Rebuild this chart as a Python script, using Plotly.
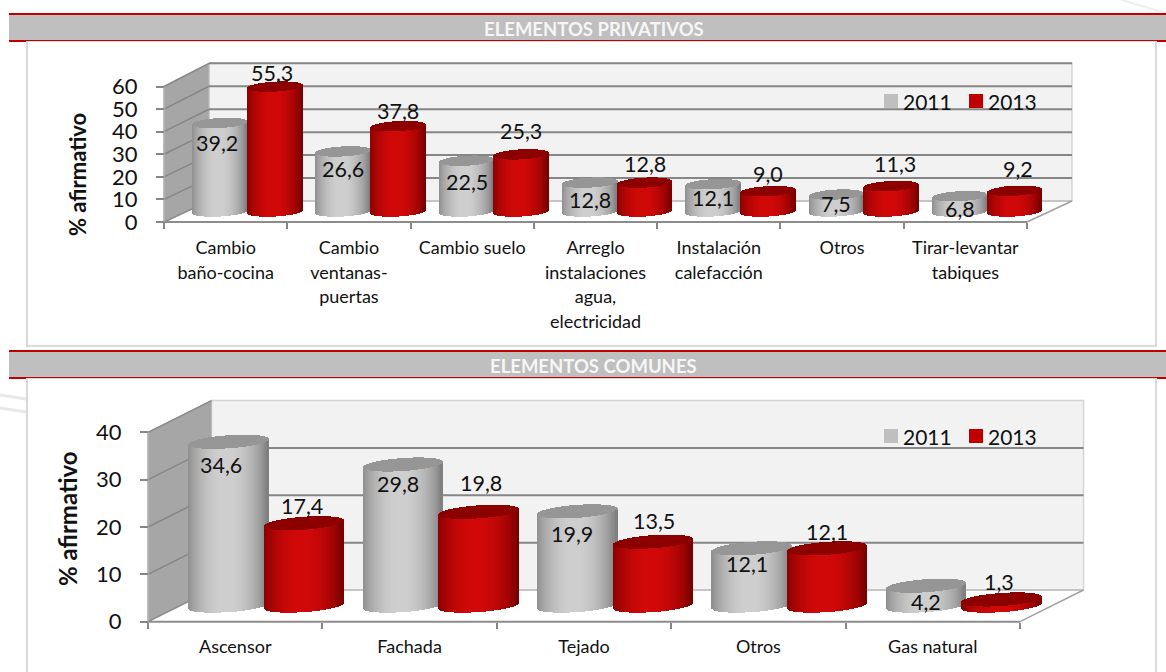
import math
import plotly.graph_objects as go

# ---- data -------------------------------------------------------------
SERIES_NAMES = ["2011", "2013"]
PRIV_CATEGORIES = ["Cambio<br>baño-cocina", "Cambio<br>ventanas-<br>puertas", "Cambio suelo",
                   "Arreglo<br>instalaciones<br>agua,<br>electricidad", "Instalación<br>calefacción",
                   "Otros", "Tirar-levantar<br>tabiques"]
PRIV_2011 = [39.2, 26.6, 22.5, 12.8, 12.1, 7.5, 6.8]
PRIV_2013 = [55.3, 37.8, 25.3, 12.8, 9.0, 11.3, 9.2]
PRIV_TICKS = [0, 10, 20, 30, 40, 50, 60]

COM_CATEGORIES = ["Ascensor", "Fachada", "Tejado", "Otros", "Gas natural"]
COM_2011 = [34.6, 29.8, 19.9, 12.1, 4.2]
COM_2013 = [17.4, 19.8, 13.5, 12.1, 1.3]
COM_TICKS = [0, 10, 20, 30, 40]

Y_TITLE = "% afirmativo"
TITLE_PRIV = "ELEMENTOS PRIVATIVOS"
TITLE_COM = "ELEMENTOS COMUNES"

# ---- page geometry (pixels) -------------------------------------------
W, H = 1166, 672
FONT = "Lato, Carlito, Calibri, sans-serif"
TXT = "#111111"
RED = "#c00000"
GREY = "#bfbfbf"
GRID = "#868686"


def px(x):
    return x / W


def py(y):
    return 1 - y / H


PANELS = [
    dict(ax="", x0=164, x1=1027, y0=222, ytop=86.5, vmax=60, ticks=PRIV_TICKS, cats=PRIV_CATEGORIES,
         s1=PRIV_2011, s2=PRIV_2013, depth_x=45, depth_y=21, back_scale=1.016, cap_ry=5.0, tilt=1.5, base_px=11,
         c1=0.454, c2=0.898, hw=0.2215, tick_size=18, line_px=24.7, ystand=14, xstand=12,
         shift1=[-21, -18, -22, -18, -14, -10, -13], shift2=[13, 15, 23, 18, 17, 21, 21],
         dx1=[-2.5, 0, 0, 0, 0, 0, 0], dx2=[-3, 0, 0, 0, 0, 4, 4], leg_y=101,
         title_x=77, title_y=175, title_size=22),
    dict(ax="2", x0=148, x1=1020, y0=621.7, ytop=432.3, vmax=40, ticks=COM_TICKS, cats=COM_CATEGORIES,
         s1=COM_2011, s2=COM_2013, depth_x=63.5, depth_y=31.7, back_scale=1.0, cap_ry=6.5, tilt=2.8, base_px=16.5,
         c1=0.4616, c2=0.8945, hw=0.2277, tick_size=18, line_px=22, ystand=14, xstand=13,
         shift1=[-24, -20, -23, -16, -17], shift2=[17, 28, 20, 16, 17],
         dx1=[-7.5, -5, -5, -5, 0], dx2=[-2, 2.5, 1, 0, -3], leg_y=436,
         title_x=67, title_y=519, title_size=24),
]

SHADES = {
    "2011": dict(edge=(128, 128, 128), mid=(206, 206, 206), cap="#969696"),
    "2013": dict(edge=(122, 0, 0), mid=(208, 8, 8), cap="#8c0000"),
}


def shade(name, t):
    """Horizontal lighting across a cylinder; t runs from -1 to 1."""
    s = SHADES[name]
    k = min(1.0, math.cos((t + 0.05) * math.pi / 2) ** 0.7 * 1.02) if abs(t + 0.05) < 1 else 0.0
    r, g, b = [round(e + (m - e) * k) for e, m in zip(s["edge"], s["mid"])]
    return f"rgb({r},{g},{b})"


fig = go.Figure()
shapes = []
annotations = []
layout_axes = {}


def line(xref, yref, x0, y0, x1, y1, color, width, layer="below"):
    shapes.append(dict(type="line", xref=xref, yref=yref, x0=x0, y0=y0, x1=x1, y1=y1,
                       line=dict(color=color, width=width), layer=layer))


def rect_page(x0, y0, x1, y1, fill, border=None, bw=0):
    shapes.append(dict(type="rect", xref="paper", yref="paper", x0=px(x0), x1=px(x1), y0=py(y0), y1=py(y1),
                       fillcolor=fill, line=dict(color=border or fill, width=bw), layer="below"))


# ---- page furniture ----------------------------------------------------
for sx, sy in [(0, 395), (0, 408)]:
    line("paper", "paper", px(sx), py(sy), px(26), py(sy + 4), "#e6e8ea", 3)
line("paper", "paper", px(1122), py(0), px(1166), py(13), "#eeeeee", 2)
rect_page(27, 41, 1156, 346, "#ffffff", "#d9d9d9", 2)
rect_page(27, 378, 1156, 690, "#ffffff", "#d9d9d9", 2)
for top, label in [(13, TITLE_PRIV), (350, TITLE_COM)]:
    rect_page(9, top + 2, W, top + 27, GREY)
    rect_page(9, top, W, top + 2, RED)
    rect_page(9, top + 27, W, top + 28, RED)
    rect_page(9, top + 27, 26, top + 29, RED)
    rect_page(1157, top + 27, W, top + 29, RED)
    annotations.append(dict(text=f"<b>{label}</b>", xref="paper", yref="paper", x=px(593.5), y=py(top + 16),
                            xanchor="center", yanchor="middle", showarrow=False,
                            font=dict(family=FONT, size=18.5, color="#f6f6f6")))

# ---- the two 3-D cylinder charts ---------------------------------------
for p in PANELS:
    n = len(p["cats"])
    xa, ya = "x" + p["ax"], "y" + p["ax"]
    xkey, ykey = "xaxis" + p["ax"], "yaxis" + p["ax"]
    ux = (p["x1"] - p["x0"]) / n          # pixels per category
    uy = (p["y0"] - p["ytop"]) / p["vmax"]  # pixels per value unit
    dx, dy = p["depth_x"] / ux, p["depth_y"] / uy
    base = p["base_px"] / uy
    ry, tilt = p["cap_ry"] / uy, p["tilt"] / uy
    bs = p["back_scale"]

    pad_l, pad_b = 3, 3
    right = p["x1"] + p["depth_x"] + 3
    top = p["ytop"] - p["depth_y"] - 6
    layout_axes[xkey] = dict(
        domain=[px(p["x0"] - pad_l), px(right)],
        range=[-pad_l / ux, (right - p["x0"]) / ux],
        anchor="free", position=py(p["y0"]), automargin=False,
        tickmode="array", tickvals=[i + 0.5 for i in range(n)],
        ticktext=[f'<span style="font-size:{p["tick_size"]}px">' +
                  c.replace("<br>", f'</span><br><span style="font-size:{p["tick_size"]}px">') + "</span>"
                  for c in p["cats"]],
        tickfont=dict(family=FONT, size=p["line_px"] / 1.3, color=TXT),
        ticks="", ticklen=0, showgrid=False, zeroline=False, showline=False, tickangle=0, fixedrange=True,
        minor=dict(tickmode="array", tickvals=list(range(n + 1)), ticks="outside", ticklen=6,
                   tickwidth=1.5, tickcolor=GRID, showgrid=False),
        ticklabelstandoff=p["xstand"],
    )
    layout_axes[ykey] = dict(
        domain=[py(p["y0"] + pad_b), py(top)],
        range=[-pad_b / uy, (p["y0"] - top) / uy],
        anchor="free", position=px(p["x0"]), automargin=False,
        tickmode="array", tickvals=p["ticks"], ticktext=[str(t) for t in p["ticks"]],
        tickfont=dict(family=FONT, size=22, color=TXT),
        ticks="outside", ticklen=8, tickwidth=1.5, tickcolor=GRID, ticklabelstandoff=p["ystand"],
        showgrid=False, zeroline=False, showline=False, fixedrange=True,
    )
    annotations.append(dict(text=f"<b>{Y_TITLE}</b>", xref="paper", yref="paper", x=px(p["title_x"]),
                            y=py(p["title_y"]), textangle=-90, xanchor="center", yanchor="middle",
                            showarrow=False, font=dict(family=FONT, size=p["title_size"], color=TXT)))

    # walls, floor and gridlines, all placed on the value axes
    vmax = p["vmax"]
    back_top = vmax * bs + dy
    shapes.append(dict(type="path", xref=xa, yref=ya, layer="below", fillcolor="#f2f2f2",
                       path=f"M {dx} {dy} L {n + dx} {dy} L {n + dx} {back_top} L {dx} {back_top} Z",
                       line=dict(color="#d4d4d4", width=1.5)))
    shapes.append(dict(type="path", xref=xa, yref=ya, layer="below", fillcolor="#a6a6a6",
                       path=f"M 0 0 L {dx} {dy} L {dx} {back_top} L 0 {vmax} Z",
                       line=dict(color="#bdbdbd", width=1)))
    for t in p["ticks"]:
        if t == 0:
            line(xa, ya, dx, dy, n + dx, dy, "#c4c4c4", 2)
            continue
        if not (p["ax"] == "2" and t == vmax):
            line(xa, ya, dx, t * bs + dy, n + dx, t * bs + dy, GRID, 2)
        line(xa, ya, 0, t, dx, t * bs + dy, "#868686", 1.5)
    line(xa, ya, 0, 0, dx, dy, "#8c8c8c", 1.5)
    line(xa, ya, n, 0, n + dx, dy, "#a0a0a0", 1.5)
    line(xa, ya, 0, 0, n, 0, "#8c8c8c", 2)
    line(xa, ya, 0, 0, 0, vmax, "#b0b0b0", 1.5)

    for name, values, centre in [(SERIES_NAMES[0], p["s1"], p["c1"]), (SERIES_NAMES[1], p["s2"], p["c2"])]:
        strips = max(2, round(2 * p["hw"] * ux))
        sw = 2 * p["hw"] / strips
        bx, bb, bh, bc = [], [], [], []
        cx, cb, ch = [], [], []
        for i, v in enumerate(values):
            for k in range(strips):
                t = -1 + (2 * k + 1) / strips
                arc = ry * math.sqrt(max(0.0, 1 - t * t))
                x = i + centre + t * p["hw"]
                bx.append(x)
                bb.append(base + tilt * t - arc)
                bh.append(v)
                bc.append(shade(name, t))
                cx.append(x)
                cb.append(base + v + tilt * t - arc)
                ch.append(2 * arc)
        common = dict(xaxis=xa, yaxis=ya, width=sw, hoverinfo="skip", showlegend=False, name=name)
        fig.add_trace(go.Bar(x=bx, y=bh, base=bb, marker=dict(color=bc, line=dict(width=0)), **common))
        fig.add_trace(go.Bar(x=cx, y=ch, base=cb, marker=dict(color=SHADES[name]["cap"], line=dict(width=0)), **common))

    # value labels
    for values, centre, shifts, xs in [(p["s1"], p["c1"], p["shift1"], p["dx1"]),
                                       (p["s2"], p["c2"], p["shift2"], p["dx2"])]:
        for i, v in enumerate(values):
            annotations.append(dict(text=f"{v:.1f}".replace(".", ","), xref=xa, yref=ya,
                                    x=i + centre, y=base + v, xshift=xs[i], yshift=shifts[i], showarrow=False,
                                    xanchor="center", yanchor="middle",
                                    font=dict(family=FONT, size=21.5, color=TXT)))

    # legend keys
    for label, color, sq, tx in [(SERIES_NAMES[0], GREY, 884, 903), (SERIES_NAMES[1], RED, 969, 988)]:
        y = p["leg_y"]
        shapes.append(dict(type="rect", xref="paper", yref="paper", x0=px(sq), x1=px(sq + 14),
                           y0=py(y + 7), y1=py(y - 7), fillcolor=color, line=dict(width=0), layer="above"))
        annotations.append(dict(text=label, xref="paper", yref="paper", x=px(tx), y=py(y), xanchor="left",
                                yanchor="middle", showarrow=False, xshift=-2,
                                font=dict(family=FONT, size=21, color=TXT)))

fig.update_layout(
    template="none",
    width=W, height=H, margin=dict(l=0, r=0, t=0, b=0, pad=0), autosize=False,
    paper_bgcolor="#ffffff", plot_bgcolor="rgba(0,0,0,0)",
    barmode="overlay", bargap=0, bargroupgap=0, showlegend=False,
    shapes=shapes, annotations=annotations, font=dict(family=FONT), **layout_axes,
)
fig.write_html("out.html", config=dict(displayModeBar=False),
               post_script="document.body.style.margin='0';document.documentElement.style.overflow='hidden';")
